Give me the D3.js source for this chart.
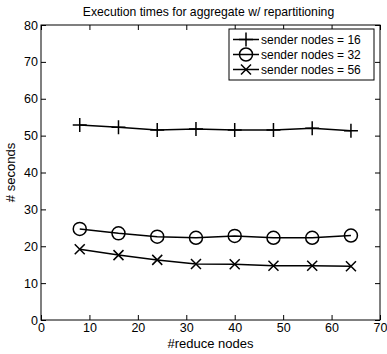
<!DOCTYPE html>
<html><head><meta charset="utf-8">
<script src="https://cdn.jsdelivr.net/npm/d3@7"></script>
<style>body{margin:0;background:#fff}svg{display:block}text{font-family:"Liberation Sans",Arial,sans-serif}</style>
</head><body>
<script>
const reduceNodes = [8, 16, 24, 32, 40, 48, 56, 64];
const sender16 = [52.9, 52.3, 51.5, 51.8, 51.5, 51.5, 52.0, 51.3];
const sender32 = [24.7, 23.5, 22.6, 22.3, 22.8, 22.3, 22.3, 22.9];
const sender56 = [19.2, 17.6, 16.3, 15.2, 15.1, 14.7, 14.7, 14.6];
const seriesNames = ["sender nodes = 16", "sender nodes = 32", "sender nodes = 56"];
const xTicks = [0, 10, 20, 30, 40, 50, 60, 70];
const yTicks = [0, 10, 20, 30, 40, 50, 60, 70, 80];

const W = 387, H = 354;
const L = 41, R = 380, T = 25, B = 320;
const svg = d3.select("body").append("svg").attr("width", W).attr("height", H);
const x = d3.scaleLinear().domain([0, 70]).range([L, R]);
const y = d3.scaleLinear().domain([0, 80]).range([B, T]);

const tl = 5;
svg.append("g").attr("transform", `translate(0,${B})`)
  .call(d3.axisBottom(x).tickValues(xTicks).tickSize(-tl).tickPadding(3).tickSizeOuter(0))
  .call(g => g.select(".domain").remove());
svg.append("g").attr("transform", `translate(${L},0)`)
  .call(d3.axisLeft(y).tickValues(yTicks).tickSize(-tl).tickPadding(3).tickSizeOuter(0))
  .call(g => g.select(".domain").remove());
svg.append("g").attr("transform", `translate(0,${T})`)
  .call(d3.axisTop(x).tickValues(xTicks).tickSize(-tl).tickFormat("").tickSizeOuter(0))
  .call(g => g.select(".domain").remove());
svg.append("g").attr("transform", `translate(${R},0)`)
  .call(d3.axisRight(y).tickValues(yTicks).tickSize(-tl).tickFormat("").tickSizeOuter(0))
  .call(g => g.select(".domain").remove());
svg.selectAll(".tick text").attr("font-size", 12.5).attr("fill", "#000")
  .style("font-family", '"Liberation Sans",Arial,sans-serif');
svg.selectAll(".tick line").attr("stroke", "#000");
svg.append("rect").attr("x", L).attr("y", T).attr("width", R - L).attr("height", B - T)
  .attr("fill", "none").attr("stroke", "#000").attr("stroke-width", 1);

svg.append("text").attr("x", (L + R) / 2 - 2).attr("y", 16).attr("text-anchor", "middle")
  .attr("font-size", 12.2).text("Execution times for aggregate w/ repartitioning");
svg.append("text").attr("x", (L + R) / 2).attr("y", 348).attr("text-anchor", "middle")
  .attr("font-size", 13).text("#reduce nodes");
svg.append("text").attr("transform", `translate(15,${(T + B) / 2}) rotate(-90)`)
  .attr("text-anchor", "middle").attr("font-size", 13).text("# seconds");

const line = d3.line().x(d => x(d[0])).y(d => y(d[1]));
const allSeries = [sender16, sender32, sender56];
const markers = ["plus", "circle", "cross"];

function drawMarker(g, type, cx, cy) {
  if (type === "plus") {
    g.append("path").attr("d", `M${cx - 7},${cy}H${cx + 7}M${cx},${cy - 7}V${cy + 7}`)
      .attr("stroke", "#000").attr("stroke-width", 1.5);
  } else if (type === "circle") {
    g.append("circle").attr("cx", cx).attr("cy", cy).attr("r", 6.5)
      .attr("fill", "none").attr("stroke", "#000").attr("stroke-width", 1.5);
  } else {
    g.append("path").attr("d", `M${cx - 5},${cy - 5}L${cx + 5},${cy + 5}M${cx - 5},${cy + 5}L${cx + 5},${cy - 5}`)
      .attr("stroke", "#000").attr("stroke-width", 1.5);
  }
}

allSeries.forEach((vals, i) => {
  const pts = reduceNodes.map((n, j) => [n, vals[j]]);
  svg.append("path").attr("d", line(pts)).attr("fill", "none")
    .attr("stroke", "#000").attr("stroke-width", 1.5);
  const g = svg.append("g");
  pts.forEach(p => drawMarker(g, markers[i], x(p[0]), y(p[1])));
});

const lg = svg.append("g");
lg.append("rect").attr("x", 229).attr("y", 29).attr("width", 145).attr("height", 51)
  .attr("fill", "#fff").attr("stroke", "#000").attr("stroke-width", 1);
seriesNames.forEach((name, i) => {
  const cy = 39.5 + i * 15;
  lg.append("line").attr("x1", 233).attr("x2", 259).attr("y1", cy).attr("y2", cy)
    .attr("stroke", "#000").attr("stroke-width", 1.5);
  drawMarker(lg, markers[i], 246, cy);
  lg.append("text").attr("x", 261).attr("y", cy + 4.5).attr("font-size", 12).text(name);
});
</script>
</body></html>
